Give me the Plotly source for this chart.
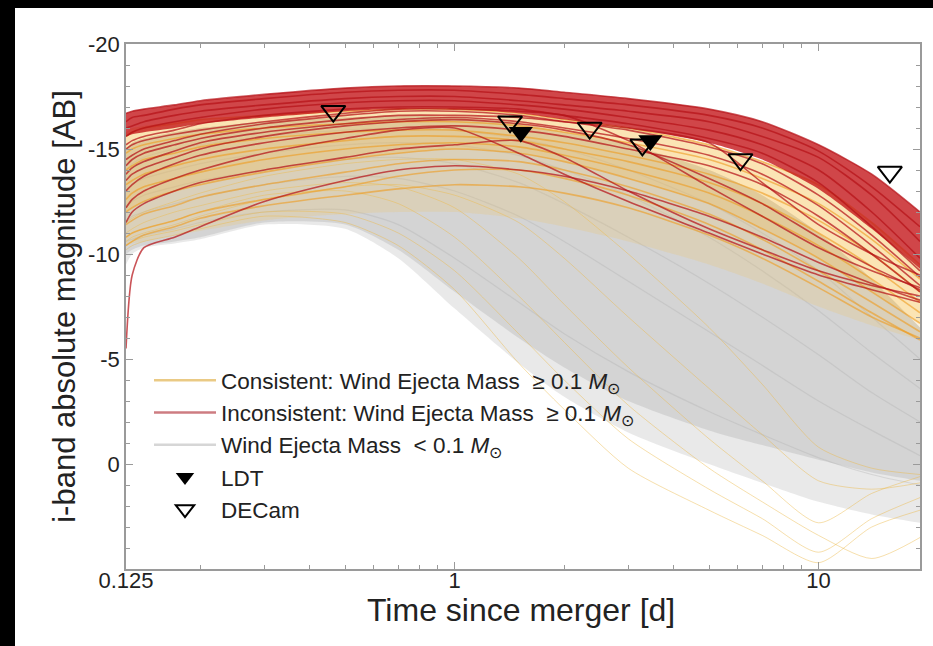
import math
import plotly.graph_objects as go

# Sampling times of the model light curves [days since merger]
T = [0.125, 0.13, 0.14, 0.17, 0.2, 0.3, 0.5, 0.7, 1.0, 1.5, 2.0, 3.0, 5.0, 7.0, 10.0, 14.0, 19.0]

# Envelopes of the low-wind-mass model family (i-band absolute magnitude)
GRAY_TOP = [-15.0, -15.3, -15.5, -15.8, -16.0, -16.3, -16.5, -16.6, -16.5, -16.2, -15.8, -15.2, -14.0, -12.8, -11.0, -8.8, -6.5]
GRAY_LOW_DENSE = [-10.0, -10.2, -10.4, -10.6, -10.8, -11.5, -11.4, -10.2, -8.2, -6.0, -4.6, -3.0, -1.6, -0.9, -0.2, 0.4, 0.8]
GRAY_LOW_FAINT = [-9.5, -10.0, -10.3, -10.5, -10.7, -11.4, -11.2, -9.8, -7.4, -4.8, -3.2, -1.5, 0.0, 0.9, 1.8, 2.4, 2.8]

GRAY_CURVES = [
    [-14.0, -14.3, -14.6, -15.0, -15.2, -15.6, -15.9, -16.0, -15.9, -15.5, -15.0, -14.0, -12.4, -11.0, -9.2, -7.0, -5.0],
    [-13.0, -13.3, -13.6, -14.0, -14.3, -14.8, -15.2, -15.3, -15.2, -14.7, -14.0, -12.8, -10.8, -9.2, -7.3, -5.3, -3.6],
    [-12.2, -12.5, -12.8, -13.2, -13.5, -14.0, -14.5, -14.6, -14.3, -13.4, -12.4, -10.8, -8.6, -7.0, -5.2, -3.4, -2.0],
    [-11.5, -11.8, -12.0, -12.4, -12.7, -13.3, -13.7, -13.6, -13.0, -11.8, -10.6, -8.7, -6.3, -4.7, -3.0, -1.6, -0.4],
    [-10.6, -10.7, -10.9, -11.2, -11.5, -12.0, -12.1, -11.4, -9.8, -7.7, -6.2, -4.4, -2.5, -1.4, -0.3, 0.5, 1.0],
]

# Consistent models, wind ejecta mass >= 0.1 Msun
YELLOW_TOP = [-15.8, -16.0, -16.1, -16.3, -16.4, -16.6, -16.8, -16.9, -16.9, -16.7, -16.4, -16.0, -15.2, -14.4, -13.3, -11.5, -9.5]
YELLOW_MID = [-12.0, -12.2, -12.5, -13.0, -13.3, -13.9, -14.5, -14.8, -15.0, -14.8, -14.4, -13.6, -12.4, -11.2, -9.8, -8.2, -6.7]
YELLOW_LOW = [-10.4, -10.5, -10.6, -10.9, -11.1, -11.6, -11.9, -12.0, -12.0, -11.7, -11.3, -10.6, -9.5, -8.6, -7.5, -6.6, -5.9]

YELLOW_CURVES = [
    [-15.6, -15.8, -16.0, -16.2, -16.4, -16.6, -16.8, -16.9, -16.9, -16.7, -16.4, -16.0, -15.2, -14.4, -13.3, -11.5, -9.5],
    [-14.8, -15.0, -15.2, -15.5, -15.7, -16.0, -16.2, -16.3, -16.3, -16.1, -15.8, -15.3, -14.5, -13.6, -12.4, -10.7, -8.8],
    [-14.0, -14.2, -14.5, -14.8, -15.1, -15.5, -15.8, -15.9, -15.9, -15.6, -15.3, -14.7, -13.8, -12.9, -11.6, -10.0, -8.2],
    [-13.3, -13.5, -13.8, -14.2, -14.5, -15.0, -15.4, -15.6, -15.6, -15.4, -15.0, -14.4, -13.4, -12.4, -11.0, -9.4, -7.7],
    [-12.6, -12.9, -13.2, -13.6, -13.9, -14.5, -15.0, -15.2, -15.3, -15.1, -14.7, -14.0, -12.9, -11.8, -10.4, -8.8, -7.2],
    [-12.0, -12.2, -12.5, -13.0, -13.3, -13.9, -14.5, -14.8, -15.0, -14.8, -14.4, -13.6, -12.4, -11.2, -9.8, -8.2, -6.7],
    [-11.4, -11.6, -11.9, -12.3, -12.7, -13.3, -13.9, -14.3, -14.5, -14.4, -14.0, -13.2, -11.9, -10.7, -9.2, -7.7, -6.3],
    [-10.8, -11.0, -11.2, -11.6, -12.0, -12.6, -13.2, -13.7, -14.0, -14.0, -13.6, -12.8, -11.4, -10.2, -8.7, -7.2, -5.9],
    [-10.4, -10.6, -10.9, -11.3, -11.7, -12.3, -12.8, -13.1, -13.3, -13.2, -12.9, -12.2, -10.9, -9.8, -8.4, -7.0, -6.0],
]

# Consistent models that fade steeply after the first day
YELLOW_FADING = [
    [-11.5, -11.7, -12.0, -12.5, -12.9, -13.7, -14.3, -14.5, -14.5, -13.8, -12.5, -10.0, -6.5, -3.8, -0.8, 0.2, 0.5],
    [-10.6, -10.8, -11.0, -11.4, -11.8, -12.6, -13.2, -13.3, -12.8, -11.5, -9.8, -7.0, -3.6, -1.4, 0.8, 1.2, 0.9],
    [-10.2, -10.4, -10.6, -10.9, -11.2, -11.8, -11.5, -10.4, -8.3, -4.8, -2.6, 0.2, 2.2, 3.4, 4.7, 3.0, 2.2],
    [-10.4, -10.6, -10.8, -11.1, -11.4, -12.0, -11.9, -11.0, -9.2, -6.2, -4.0, -1.2, 1.2, 2.6, 4.2, 2.6, 1.6],
    [-10.8, -11.0, -11.2, -11.6, -12.0, -12.8, -13.0, -12.4, -10.8, -8.0, -5.8, -2.8, 0.2, 1.8, 3.4, 4.5, 3.5],
    [-11.0, -11.2, -11.5, -12.0, -12.3, -13.0, -13.4, -13.2, -12.2, -9.8, -7.6, -4.6, -1.2, 0.8, 2.8, 1.4, 0.6],
]

# Inconsistent models, wind ejecta mass >= 0.1 Msun
RED_TOP = [-16.7, -16.8, -16.9, -17.1, -17.3, -17.6, -17.9, -18.0, -18.0, -17.9, -17.7, -17.4, -16.9, -16.3, -15.2, -13.8, -12.0]
RED_LOW = [-15.6, -15.7, -15.8, -16.0, -16.2, -16.5, -16.8, -16.9, -16.9, -16.7, -16.4, -16.0, -15.3, -14.5, -13.1, -11.2, -9.3]

RED_CURVES = [
    [-16.7, -16.8, -16.9, -17.1, -17.3, -17.6, -17.9, -18.0, -18.0, -17.9, -17.7, -17.4, -16.9, -16.3, -15.2, -13.8, -12.0],
    [-16.3, -16.5, -16.6, -16.9, -17.1, -17.4, -17.7, -17.8, -17.8, -17.6, -17.4, -17.1, -16.6, -16.0, -14.9, -13.2, -11.3],
    [-16.0, -16.1, -16.3, -16.6, -16.8, -17.1, -17.4, -17.5, -17.5, -17.3, -17.1, -16.8, -16.3, -15.6, -14.6, -12.8, -10.6],
    [-15.6, -15.8, -16.0, -16.3, -16.5, -16.9, -17.2, -17.3, -17.3, -17.1, -16.9, -16.5, -15.9, -15.2, -14.0, -12.0, -9.8],
    [-15.2, -15.4, -15.6, -15.9, -16.2, -16.6, -16.9, -17.0, -17.0, -16.9, -16.6, -16.2, -15.5, -14.8, -13.4, -11.3, -9.2],
    [-15.0, -15.2, -15.4, -15.7, -15.9, -16.3, -16.7, -16.9, -16.9, -16.8, -16.6, -15.4, -13.2, -11.8, -10.3, -9.2, -8.4],
    [-14.5, -14.7, -15.0, -15.4, -15.7, -16.2, -16.6, -16.8, -16.8, -16.6, -16.3, -15.9, -15.1, -14.3, -12.8, -10.9, -8.9],
    [-14.2, -14.5, -14.8, -15.2, -15.5, -16.0, -16.4, -16.6, -16.6, -16.5, -16.3, -16.0, -15.3, -13.4, -11.4, -10.0, -9.0],
    [-13.8, -14.1, -14.4, -14.9, -15.3, -15.8, -16.2, -16.4, -16.5, -16.3, -16.0, -15.5, -14.7, -13.8, -12.3, -10.4, -8.5],
    [-13.5, -13.8, -14.1, -14.6, -15.0, -15.6, -16.1, -16.3, -16.4, -16.2, -15.9, -15.2, -13.6, -12.4, -10.8, -9.4, -8.3],
    [-13.0, -13.3, -13.7, -14.3, -14.7, -15.3, -15.8, -16.0, -16.1, -15.9, -15.6, -15.0, -14.2, -13.3, -11.8, -10.0, -8.2],
    [-12.2, -12.6, -13.0, -13.6, -14.0, -14.8, -15.5, -15.9, -16.0, -14.8, -13.8, -12.5, -11.0, -10.0, -9.0, -8.3, -7.7],
    [-11.5, -12.0, -12.4, -13.0, -13.4, -14.0, -14.6, -15.0, -15.2, -15.4, -14.6, -13.0, -11.2, -10.2, -9.2, -8.5, -8.0],
    [-5.5, -9.0, -10.3, -10.8, -11.3, -12.5, -13.5, -14.0, -14.2, -14.0, -13.7, -13.0, -11.8, -10.8, -9.6, -8.6, -7.8],
]

# Observational upper limits
DECAM_T = [0.464, 1.42, 2.35, 3.28, 6.1, 15.7]
DECAM_MAG = [-16.8, -16.3, -16.0, -15.2, -14.5, -13.9]
LDT_T = [1.52, 3.45]
LDT_MAG = [-15.8, -15.4]

X_TICKS = [0.125, 1, 10]
X_TICK_TEXT = ["0.125", "1", "10"]
X_MINOR = [0.2, 0.3, 0.4, 0.5, 0.6, 0.7, 0.8, 0.9, 2, 3, 4, 5, 6, 7, 8, 9]
Y_TICKS = [-20, -15, -10, -5, 0]
Y_TICK_TEXT = ["-20", "-15", "-10", "-5", "0"]

LEGEND_LABELS = [
    "Consistent: Wind Ejecta Mass  \u2265 0.1 <i>M</i><sub>\u2299</sub>",
    "Inconsistent: Wind Ejecta Mass  \u2265 0.1 <i>M</i><sub>\u2299</sub>",
    "Wind Ejecta Mass  < 0.1 <i>M</i><sub>\u2299</sub>",
    "LDT",
    "DECam",
]

SPLINE = dict(shape="spline", smoothing=0.7)

fig = go.Figure()


def band(top, low, color):
    fig.add_trace(go.Scatter(x=T, y=top, mode="lines", line=dict(width=0, **SPLINE),
                             showlegend=False, hoverinfo="skip"))
    fig.add_trace(go.Scatter(x=T, y=low, mode="lines", line=dict(width=0, **SPLINE),
                             fill="tonexty", fillcolor=color, showlegend=False, hoverinfo="skip"))


def curves(rows, color, width):
    for row in rows:
        fig.add_trace(go.Scatter(x=T, y=row, mode="lines", line=dict(color=color, width=width, **SPLINE),
                                 showlegend=False, hoverinfo="skip"))


# gray family
band(GRAY_TOP, GRAY_LOW_FAINT, "rgba(218,218,218,0.6)")
band(GRAY_TOP, GRAY_LOW_DENSE, "rgba(202,202,202,0.65)")
curves(GRAY_CURVES, "rgba(175,175,175,0.35)", 1.2)

# consistent family
curves(YELLOW_FADING, "rgba(236,185,70,0.45)", 1.0)
band(YELLOW_TOP, YELLOW_LOW, "rgba(246,196,84,0.2)")
band(YELLOW_TOP, YELLOW_MID, "rgba(246,184,60,0.25)")
curves(YELLOW_CURVES, "rgba(238,155,30,0.6)", 1.6)

# inconsistent family
band(RED_TOP, RED_LOW, "rgba(196,24,28,0.8)")
curves(RED_CURVES, "rgba(182,18,24,0.72)", 1.6)

# observations
fig.add_trace(go.Scatter(x=LDT_T, y=LDT_MAG, mode="markers", showlegend=False,
                         marker=dict(symbol="triangle-down", size=21, color="black")))
fig.add_trace(go.Scatter(x=DECAM_T, y=DECAM_MAG, mode="markers", showlegend=False,
                         marker=dict(symbol="triangle-down-open", size=21, color="black",
                                     line=dict(width=2, color="black"))))

# legend entries
legend_styles = [
    dict(mode="lines", line=dict(color="rgba(232,196,120,0.9)", width=2.5)),
    dict(mode="lines", line=dict(color="rgba(200,110,115,0.9)", width=2.5)),
    dict(mode="lines", line=dict(color="rgba(214,214,214,1)", width=2.5)),
    dict(mode="markers", marker=dict(symbol="triangle-down", size=20, color="black")),
    dict(mode="markers", marker=dict(symbol="triangle-down-open", size=20, color="black",
                                     line=dict(width=2, color="black"))),
]
for i, (label, style) in enumerate(zip(LEGEND_LABELS, legend_styles)):
    fig.add_trace(go.Scatter(x=[None], y=[None], name=label, legendgroup=f"g{i}", **style))

axis_common = dict(showline=True, linecolor="#9a9a9a", linewidth=1.5, mirror="ticks",
                   ticks="inside", tickcolor="#9a9a9a", ticklen=7, tickwidth=1.2,
                   showgrid=False, zeroline=False, tickfont=dict(size=22, color="#222"))

fig.update_xaxes(type="log", range=[math.log10(0.125), math.log10(19)],
                 tickmode="array", tickvals=X_TICKS, ticktext=X_TICK_TEXT,
                 ticklabelstandoff=-9,
                 minor=dict(tickmode="array", tickvals=X_MINOR, ticks="inside", ticklen=4,
                            tickcolor="#9a9a9a", showgrid=False),
                 **axis_common)
fig.update_yaxes(range=[5, -20], tickmode="array", tickvals=Y_TICKS, ticktext=Y_TICK_TEXT,
                 minor=dict(dtick=1, ticks="inside", ticklen=4, tickcolor="#9a9a9a", showgrid=False),
                 title=dict(text="i-band absolute magnitude [AB]", font=dict(size=31, color="#222"), standoff=3),
                 **axis_common)

W, H = 933, 646
L, R, TOP, B = 126, 13, 44, 77
pw, ph = W - L - R, H - TOP - B


def px_x(p):
    return (p - L) / pw


def px_y(p):
    return (H - B - p) / ph


# x-axis title placed just under the tick labels
fig.add_annotation(text="Time since merger [d]", xref="paper", yref="paper",
                   x=px_x(521), y=px_y(610), xanchor="center", yanchor="middle",
                   showarrow=False, font=dict(size=32, color="#222"))

# dark frame strips along the top and left edges
fig.add_shape(type="rect", xref="paper", yref="paper", x0=px_x(0), x1=px_x(15), y0=px_y(H), y1=px_y(0),
              fillcolor="black", line=dict(width=0), layer="above")
fig.add_shape(type="rect", xref="paper", yref="paper", x0=px_x(0), x1=px_x(W), y0=px_y(8), y1=px_y(0),
              fillcolor="black", line=dict(width=0), layer="above")

fig.update_layout(
    width=W, height=H,
    margin=dict(l=L, r=R, t=TOP, b=B),
    paper_bgcolor="white", plot_bgcolor="white",
    font=dict(family="Liberation Sans, Arial, Helvetica, sans-serif", color="#222"),
    legend=dict(x=px_x(149), y=px_y(359), xanchor="left", yanchor="top",
                bgcolor="rgba(0,0,0,0)", font=dict(size=22.5, color="#222"),
                tracegroupgap=4, traceorder="normal", itemwidth=62),
    showlegend=True,
)

fig.write_html("out.html")
